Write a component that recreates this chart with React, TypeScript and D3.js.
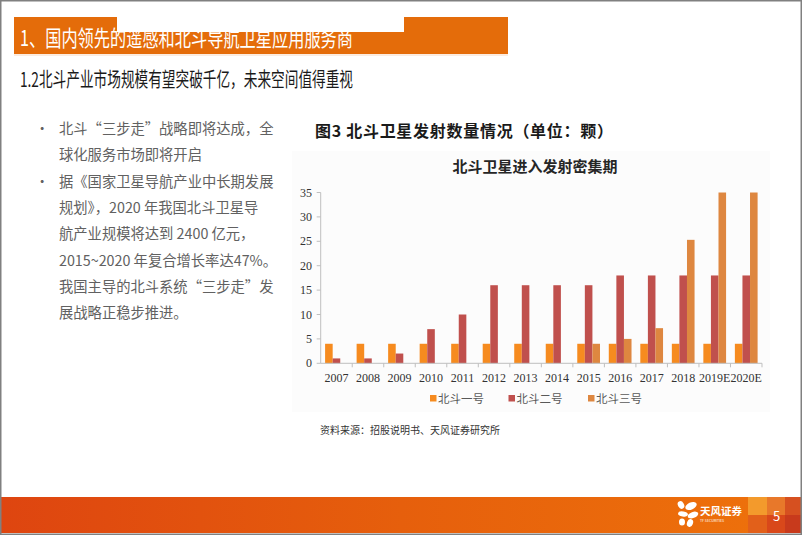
import * as d3 from 'd3'
import React from 'react'

// chart data
const years = ['2007', '2008', '2009', '2010', '2011', '2012', '2013', '2014', '2015', '2016', '2017', '2018', '2019E', '2020E']
const beidou1 = [4, 4, 4, 4, 4, 4, 4, 4, 4, 4, 4, 4, 4, 4]
const beidou2 = [1, 1, 2, 7, 10, 16, 16, 16, 16, 18, 18, 18, 18, 18]
const beidou3 = [0, 0, 0, 0, 0, 0, 0, 0, 4, 5, 7.2, 25.3, 35, 35]
const seriesNames = ['北斗一号', '北斗二号', '北斗三号']
const seriesColors = ['#F68B1F', '#C0504D', '#DE8740']
const yTicks = [0, 5, 10, 15, 20, 25, 30, 35]

const pageTitle = '1、国内领先的遥感和北斗导航卫星应用服务商'
const subTitle = '1.2北斗产业市场规模有望突破千亿，未来空间值得重视'
const figTitle = '图3  北斗卫星发射数量情况（单位：颗）'
const chartTitle = '北斗卫星进入发射密集期'
const sourceText = '资料来源：招股说明书、天风证券研究所'
const bodyLines = [
  { bullet: true, text: '北斗“三步走”战略即将达成，全' },
  { bullet: false, text: '球化服务市场即将开启' },
  { bullet: true, text: '据《国家卫星导航产业中长期发展' },
  { bullet: false, text: '规划》，2020 年我国北斗卫星导' },
  { bullet: false, text: '航产业规模将达到 2400 亿元，' },
  { bullet: false, text: '2015~2020 年复合增长率达47%。' },
  { bullet: false, text: '我国主导的北斗系统“三步走”发' },
  { bullet: false, text: '展战略正稳步推进。' },
]

const W = 802
const H = 535
const cjk = '"Noto Sans CJK SC", "Noto Sans", sans-serif'
const serif = '"Liberation Serif", "DejaVu Serif", serif'

const plot = { left: 320.7, right: 762, top: 192.5, bottom: 363.3 }

const App = () => {
  const series = [beidou1, beidou2, beidou3]
  const x0 = d3.scaleBand().domain(years).range([plot.left, plot.right]).padding(0)
  const x1 = d3
    .scaleBand()
    .domain(seriesNames)
    .range([0, x0.bandwidth()])
    .paddingInner(0)
    .paddingOuter(0.58)
  const y = d3.scaleLinear().domain([0, 35]).range([plot.bottom, plot.top])
  const axisColor = '#BFBFBF'

  const legendX = [430, 508.5, 588]

  return (
    <svg
      width={W}
      height={H}
      style={{ position: 'absolute', left: 0, top: 0, background: '#fff' }}
    >
      <defs>
        <linearGradient id="foot" x1="0" x2="1" y1="0" y2="0">
          <stop offset="0" stopColor="#DE4510" />
          <stop offset="0.5" stopColor="#E65F0C" />
          <stop offset="1" stopColor="#EE720B" />
        </linearGradient>
      </defs>
      <rect x={0} y={0} width={W} height={H} fill="#fff" />

      {/* header */}
      <rect x={14} y={17} width={494} height={37} fill="#E46C0A" />
      <text
        x={20}
        y={46}
        fill="#fff"
        fontFamily={cjk}
        fontSize={22}
        textLength={333}
        lengthAdjust="spacingAndGlyphs"
      >
        {pageTitle}
      </text>
      <rect x={117} y={17} width={287} height={15} fill="#fff" />
      <line x1={14} x2={508} y1={55} y2={55} stroke="#F8D8C0" strokeWidth={1} />

      <text
        x={20}
        y={87}
        fill="#1a1a1a"
        fontFamily={cjk}
        fontSize={20}
        textLength={333}
        lengthAdjust="spacingAndGlyphs"
      >
        {subTitle}
      </text>

      {/* body text */}
      {bodyLines.map((l, i) => (
        <g key={i} fontFamily={cjk} fontSize={14.3} fill="#616161">
          {l.bullet && (
            <text x={35} y={134 + i * 26.3}>
              •
            </text>
          )}
          <text x={59} y={134 + i * 26.3}>
            {l.text}
          </text>
        </g>
      ))}

      {/* figure */}
      <text
        x={315}
        y={137}
        fontFamily={cjk}
        fontSize={16}
        fontWeight={700}
        fill="#1a1a1a"
        textLength={298}
        lengthAdjust="spacing"
      >
        {figTitle}
      </text>
      <rect x={292} y={151} width={478} height={261} fill="#FCFCFC" />
      <text
        x={535}
        y={172}
        textAnchor="middle"
        fontFamily={cjk}
        fontSize={15}
        fontWeight={600}
        fill="#262626"
      >
        {chartTitle}
      </text>

      {/* bars */}
      {years.map((yr, i) => (
        <g key={yr}>
          {series.map((s, j) =>
            s[i] > 0 ? (
              <rect
                key={j}
                x={x0(yr) + x1(seriesNames[j])}
                y={y(s[i])}
                width={x1.bandwidth()}
                height={plot.bottom - y(s[i])}
                fill={seriesColors[j]}
              />
            ) : null
          )}
        </g>
      ))}

      {/* y axis */}
      <line x1={plot.left} x2={plot.left} y1={plot.top} y2={plot.bottom} stroke={axisColor} />
      {yTicks.map((t) => (
        <g key={t}>
          <line x1={plot.left - 4} x2={plot.left} y1={y(t)} y2={y(t)} stroke={axisColor} />
          <text
            x={312}
            y={y(t) + 4}
            textAnchor="end"
            fontFamily={serif}
            fontSize={12}
            fill="#333"
          >
            {t}
          </text>
        </g>
      ))}

      {/* x axis */}
      <line x1={plot.left} x2={plot.right} y1={plot.bottom} y2={plot.bottom} stroke={axisColor} />
      {years.map((yr) => (
        <g key={yr}>
          <line
            x1={x0(yr) + x0.bandwidth()}
            x2={x0(yr) + x0.bandwidth()}
            y1={plot.bottom}
            y2={plot.bottom + 4}
            stroke={axisColor}
          />
          <text
            x={x0(yr) + x0.bandwidth() / 2}
            y={382}
            textAnchor="middle"
            fontFamily={serif}
            fontSize={12}
            fill="#333"
          >
            {yr}
          </text>
        </g>
      ))}

      {/* legend */}
      {seriesNames.map((n, j) => (
        <g key={n}>
          <rect x={legendX[j]} y={395} width={6.5} height={6.5} fill={seriesColors[j]} />
          <text x={legendX[j] + 8} y={402.5} fontFamily={cjk} fontSize={11.5} fill="#595959">
            {n}
          </text>
        </g>
      ))}

      <text x={320} y={434} fontFamily={cjk} fontSize={10} fill="#333">
        {sourceText}
      </text>

      {/* footer */}
      <rect x={0} y={497} width={W} height={36} fill="url(#foot)" />
      <rect x={748} y={497} width={19} height={18} fill="#F39A2C" />
      <rect x={748} y={515} width={19} height={18} fill="#E2601A" />
      <rect x={767} y={497} width={18} height={18} fill="#E8782A" />
      <rect x={767} y={515} width={18} height={18} fill="#D9481A" />
      <rect x={785} y={497} width={17} height={18} fill="#D65020" />
      <rect x={785} y={515} width={17} height={18} fill="#C83A1C" />
      <text x={773} y={521} fill="#fff" fontFamily={cjk} fontSize={13}>
        5
      </text>
      <g fill="#fff">
        <ellipse cx={681} cy={505} rx={3} ry={4} transform="rotate(-30 681 505)" />
        <ellipse cx={691} cy={506} rx={6} ry={3.5} transform="rotate(-25 691 506)" />
        <ellipse cx={683} cy={514} rx={5} ry={2.5} transform="rotate(10 683 514)" />
        <ellipse cx={693} cy={515} rx={5.5} ry={3} transform="rotate(-20 693 515)" />
        <ellipse cx={682} cy={522} rx={3} ry={3.5} />
        <ellipse cx={690} cy={523} rx={3} ry={4} transform="rotate(20 690 523)" />
      </g>
      <text x={700} y={515} fill="#fff" fontFamily={cjk} fontSize={10.5} fontWeight={700}>
        天风证券
      </text>
      <text x={700} y={522} fill="#fff" fontFamily={cjk} fontSize={3.5}>
        TF SECURITIES
      </text>

      {/* page border */}
      <rect x={0.75} y={0.75} width={W - 1.5} height={H - 1.5} fill="none" stroke="#808080" strokeWidth={1.5} />
    </svg>
  )
}

export default App
